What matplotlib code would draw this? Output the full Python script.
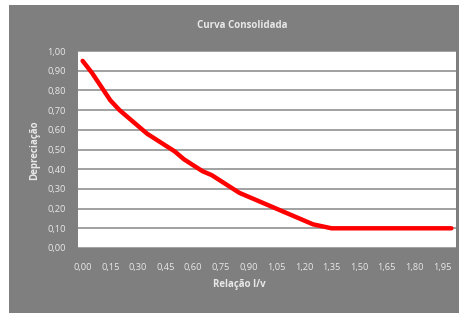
import matplotlib.pyplot as plt
from matplotlib.patches import Rectangle

# relação l/v (categorias, passo 0,05)
relacao = [0.00, 0.05, 0.10, 0.15, 0.20, 0.25, 0.30, 0.35, 0.40, 0.45,
           0.50, 0.55, 0.60, 0.65, 0.70, 0.75, 0.80, 0.85, 0.90, 0.95,
           1.00, 1.05, 1.10, 1.15, 1.20, 1.25, 1.30, 1.35, 1.40, 1.45,
           1.50, 1.55, 1.60, 1.65, 1.70, 1.75, 1.80, 1.85, 1.90, 1.95,
           2.00]
depreciacao = [0.95, 0.89, 0.82, 0.75, 0.70, 0.66, 0.62, 0.58, 0.55, 0.52,
               0.49, 0.45, 0.42, 0.39, 0.37, 0.34, 0.31, 0.28, 0.26, 0.24,
               0.22, 0.20, 0.18, 0.16, 0.14, 0.12, 0.11, 0.10, 0.10, 0.10,
               0.10, 0.10, 0.10, 0.10, 0.10, 0.10, 0.10, 0.10, 0.10, 0.10,
               0.10]
y_ticks = [0.0, 0.1, 0.2, 0.3, 0.4, 0.5, 0.6, 0.7, 0.8, 0.9, 1.0]

plt.rcParams['font.family'] = ['Open Sans', 'DejaVu Sans']
txt = '#e8e8e8'
bg = '#7f7f7f'

W, H = 459, 313
fig = plt.figure(figsize=(W / 100, H / 100), dpi=100, facecolor='white')
# painel cinza do gráfico
fig.patches.append(Rectangle((9 / W, 0), 1 - 9 / W, 1 - 5 / H,
                             transform=fig.transFigure, facecolor=bg,
                             edgecolor='none', zorder=-1))

ax = fig.add_axes([78 / W, 1 - 248 / H, (456 - 78) / W, (248 - 51) / H])
ax.set_facecolor('white')

idx = list(range(len(relacao)))
ax.plot(idx, depreciacao, color='#ff0000', lw=3.2, solid_capstyle='round',
        solid_joinstyle='round', zorder=3)

ax.set_xlim(-0.5, len(relacao) - 0.5)
ax.set_ylim(0, 1)
ax.set_yticks(y_ticks)
ax.set_yticklabels([f'{v:.2f}'.replace('.', ',') for v in y_ticks])
xt = idx[::3]
ax.set_xticks(xt)
ax.set_xticklabels([f'{relacao[i]:.2f}'.replace('.', ',') for i in xt])

ax.grid(axis='y', color='#9a9a9a', lw=1.3)
ax.set_axisbelow(True)
for s in ax.spines.values():
    s.set_visible(False)
ax.tick_params(length=0, colors=txt, labelsize=6.7)
ax.tick_params(axis='y', pad=9)
ax.tick_params(axis='x', pad=11)

fig.text(242 / W, 1 - 26 / H, 'Curva Consolidada', color=txt, fontsize=7,
         fontweight='bold', ha='center', va='center')
fig.text(239 / W, 1 - 285 / H, 'Relação l/v', color=txt, fontsize=7,
         fontweight='bold', ha='center', va='center')
fig.text(35 / W, 1 - 150 / H, 'Depreciação', color=txt, fontsize=7,
         fontweight='bold', ha='center', va='center', rotation=90)

fig.savefig('out.png', dpi=100, facecolor='white')
